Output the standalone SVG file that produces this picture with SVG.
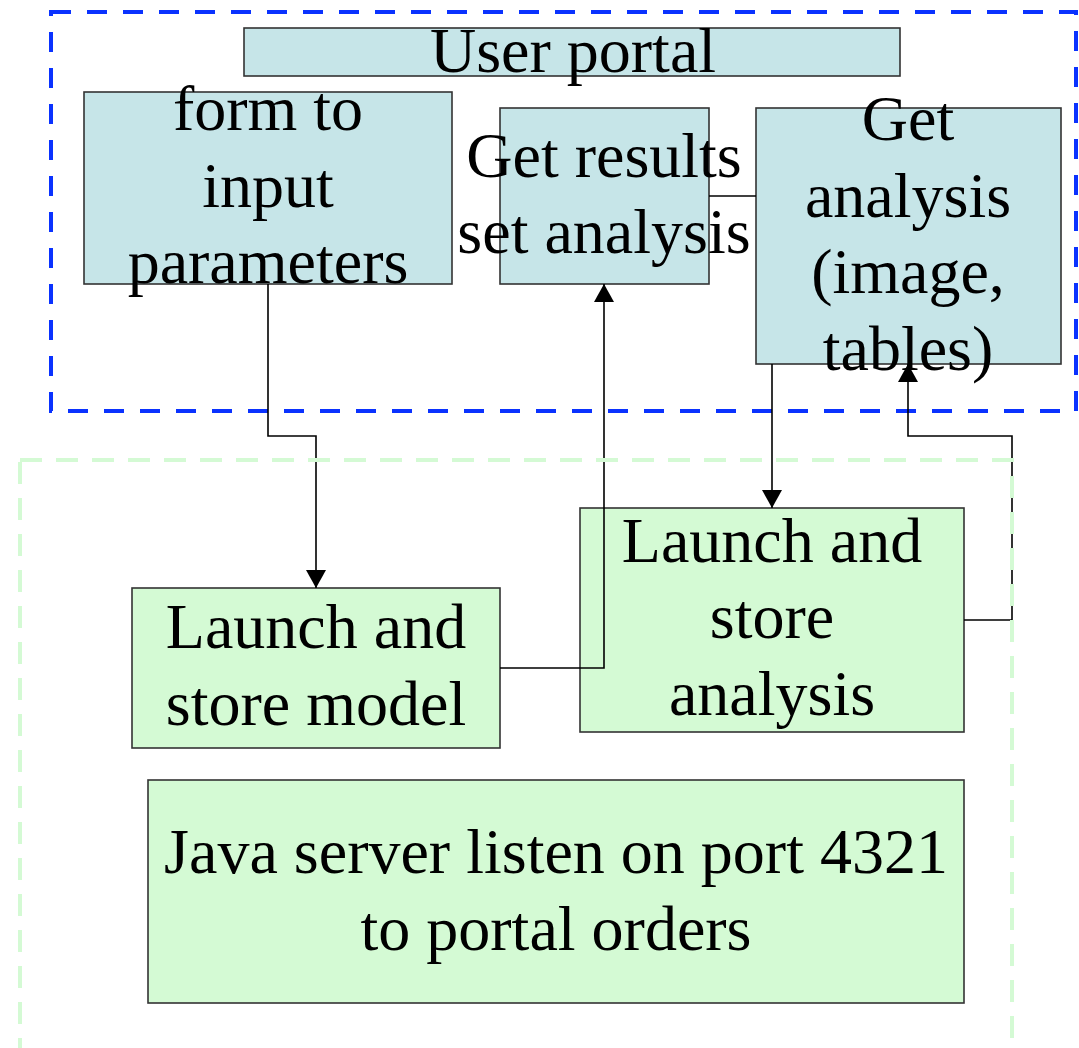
<svg xmlns="http://www.w3.org/2000/svg" width="1079" height="1048" viewBox="0 0 1079 1048">
<defs>
<style>
.t{font-family:"Liberation Serif","Times New Roman",serif;font-size:64px;fill:#000;text-anchor:middle}
.bb{fill:#c6e5e8;stroke:#333;stroke-width:1.6}
.gb{fill:#d4fad4;stroke:#333;stroke-width:1.6}
.c{fill:none;stroke:#000;stroke-width:1.6}
</style>
<marker id="ah" markerWidth="20" markerHeight="20" refX="18" refY="10" orient="auto" markerUnits="userSpaceOnUse">
<path d="M0,0 L18,10 L0,20 Z" fill="#000"/>
</marker>
</defs>
<rect width="1079" height="1048" fill="#fff"/>
<rect id="portal-group" x="51" y="12" width="1025" height="399" fill="none" stroke="#0a32ff" stroke-width="4" stroke-dasharray="20 16"/>

<g id="user-portal"><rect class="bb" x="244" y="28" width="656" height="48"/><text class="t" x="573" y="72">User portal</text></g>
<g id="form"><rect class="bb" x="84" y="92" width="368" height="192"/><text class="t" x="268" y="130">form to</text><text class="t" x="268" y="207">input</text><text class="t" x="268" y="283">parameters</text></g>
<g id="get-results"><rect class="bb" x="500" y="108" width="209" height="176"/><text class="t" x="604" y="177">Get results</text><text class="t" x="604" y="253">set analysis</text></g>
<g id="get-analysis"><rect class="bb" x="756" y="108" width="305" height="256"/><text class="t" x="908" y="140">Get</text><text class="t" x="908" y="217">analysis</text><text class="t" x="908" y="293">(image,</text><text class="t" x="908" y="370">tables)</text></g>
<g id="launch-model"><rect class="gb" x="132" y="588" width="368" height="160"/><text class="t" x="316" y="648">Launch and</text><text class="t" x="316" y="725">store model</text></g>
<g id="launch-analysis"><rect class="gb" x="580" y="508" width="384" height="224"/><text class="t" x="772" y="562">Launch and</text><text class="t" x="772" y="638">store</text><text class="t" x="772" y="715">analysis</text></g>
<g id="java-server"><rect class="gb" x="148" y="780" width="816" height="223"/><text class="t" x="556" y="873">Java server listen on port 4321</text><text class="t" x="556" y="950">to portal orders</text></g>

<g id="connectors">
<path class="c" d="M268,284 V436 H316 V588" marker-end="url(#ah)"/>
<path class="c" d="M500,668 H604 V284" marker-end="url(#ah)"/>
<path class="c" d="M709,196 H756"/>
<path class="c" d="M772,364 V508" marker-end="url(#ah)"/>
<path class="c" d="M964,620 H1012 V436 H908 V364" marker-end="url(#ah)"/>
</g>
<rect id="server-group" x="20" y="460" width="992" height="640" fill="none" stroke="#d4fad4" stroke-width="4" stroke-dasharray="22 14"/>
</svg>
